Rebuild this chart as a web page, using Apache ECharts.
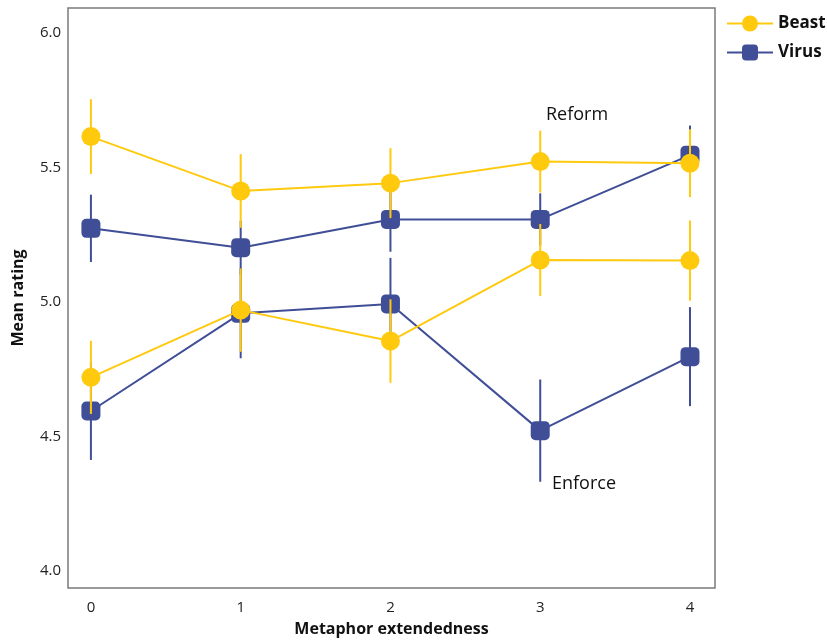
<!DOCTYPE html>
<html>
<head>
<meta charset="utf-8">
<script src="https://cdn.jsdelivr.net/npm/echarts@6/dist/echarts.min.js"></script>
<style>
  html, body { margin: 0; padding: 0; background: #fff; }
  #mainChart { width: 827px; height: 640px; }
</style>
</head>
<body>
<div id="mainChart"></div>
<script>
// 数据
var xs = [0, 1, 2, 3, 4];
var xTicks = [0, 1, 2, 3, 4];
var yTicks = [4.0, 4.5, 5.0, 5.5, 6.0];

var beastReform = [5.615, 5.413, 5.442, 5.522, 5.516];
var beastReformErr = [0.139, 0.137, 0.130, 0.115, 0.126];
var virusReform = [5.274, 5.202, 5.307, 5.307, 5.546];
var virusReformErr = [0.125, 0.100, 0.120, 0.097, 0.110];
var beastEnforce = [4.720, 4.970, 4.855, 5.156, 5.154];
var beastEnforceErr = [0.136, 0.155, 0.155, 0.134, 0.149];
var virusEnforce = [4.595, 4.958, 4.993, 4.522, 4.797];
var virusEnforceErr = [0.182, 0.167, 0.171, 0.190, 0.184];

var yellow = '#FFC90E';
var blue = '#3F4E96';
var font = 'Open Sans';

function pairs(vals) {
    return xs.map(function (x, i) { return [x, vals[i]]; });
}

function errData(vals, errs) {
    return xs.map(function (x, i) { return [x, vals[i] - errs[i], vals[i] + errs[i]]; });
}

function lineSeries(name, vals, color, symbol, z) {
    return {
        name: name,
        type: 'line',
        data: pairs(vals),
        symbol: symbol,
        symbolSize: 19,
        showSymbol: true,
        z: z,
        lineStyle: { color: color, width: 2 },
        itemStyle: { color: color, borderWidth: 0 },
        emphasis: { disabled: true }
    };
}

function errSeries(name, vals, errs, color, z) {
    return {
        name: name,
        type: 'custom',
        z: z,
        data: errData(vals, errs),
        encode: { x: 0, y: [1, 2] },
        renderItem: function (params, api) {
            var lo = api.coord([api.value(0), api.value(1)]);
            var hi = api.coord([api.value(0), api.value(2)]);
            return {
                type: 'line',
                shape: { x1: lo[0], y1: lo[1], x2: hi[0], y2: hi[1] },
                style: { stroke: color, lineWidth: 2 }
            };
        }
    };
}

var myChart = echarts.init(document.getElementById('mainChart'));

var option = {
    animation: false,
    backgroundColor: '#fff',
    grid: {
        left: 68,
        right: 112,
        top: 8,
        bottom: 52,
        outerBoundsMode: 'none',
        show: true,
        borderColor: '#7a7a7a',
        borderWidth: 1.5
    },
    legend: {
        data: ['Beast', 'Virus'],
        orient: 'vertical',
        left: 721,
        top: 10,
        itemWidth: 46,
        itemHeight: 20,
        itemGap: 12,
        textStyle: { fontFamily: font, fontWeight: 'bold', fontSize: 17, color: '#111' }
    },
    xAxis: {
        type: 'value',
        min: -0.153,
        max: 4.167,
        name: 'Metaphor extendedness',
        nameLocation: 'middle',
        nameGap: 33,
        nameTextStyle: { fontFamily: font, fontWeight: 'bold', fontSize: 16, color: '#111' },
        axisLine: { show: false },
        axisTick: { show: false },
        splitLine: { show: false },
        axisLabel: {
            customValues: xTicks,
            margin: 12,
            fontFamily: font,
            fontSize: 15,
            color: '#222'
        }
    },
    yAxis: {
        type: 'value',
        min: 3.937,
        max: 6.093,
        name: 'Mean rating',
        nameLocation: 'middle',
        nameGap: 42,
        nameTextStyle: { fontFamily: font, fontWeight: 'bold', fontSize: 16, color: '#111' },
        axisLine: { show: false },
        axisTick: { show: false },
        splitLine: { show: false },
        axisLabel: {
            customValues: yTicks,
            margin: 7,
            fontFamily: font,
            fontSize: 15,
            color: '#222',
            formatter: function (v) { return v.toFixed(1); }
        }
    },
    graphic: [
        { type: 'text', left: 546, top: 106, style: { text: 'Reform', fontFamily: font, fontSize: 18, fill: '#111' } },
        { type: 'text', left: 552, top: 475, style: { text: 'Enforce', fontFamily: font, fontSize: 18, fill: '#111' } }
    ],
    series: [
        lineSeries('Virus', virusReform, blue, 'roundRect', 2),
        lineSeries('Virus', virusEnforce, blue, 'roundRect', 2),
        errSeries('virusReformErr', virusReform, virusReformErr, blue, 3),
        errSeries('virusEnforceErr', virusEnforce, virusEnforceErr, blue, 3),
        lineSeries('Beast', beastReform, yellow, 'circle', 4),
        lineSeries('Beast', beastEnforce, yellow, 'circle', 4),
        errSeries('beastReformErr', beastReform, beastReformErr, yellow, 5),
        errSeries('beastEnforceErr', beastEnforce, beastEnforceErr, yellow, 5)
    ]
};

myChart.setOption(option);
</script>
</body>
</html>
